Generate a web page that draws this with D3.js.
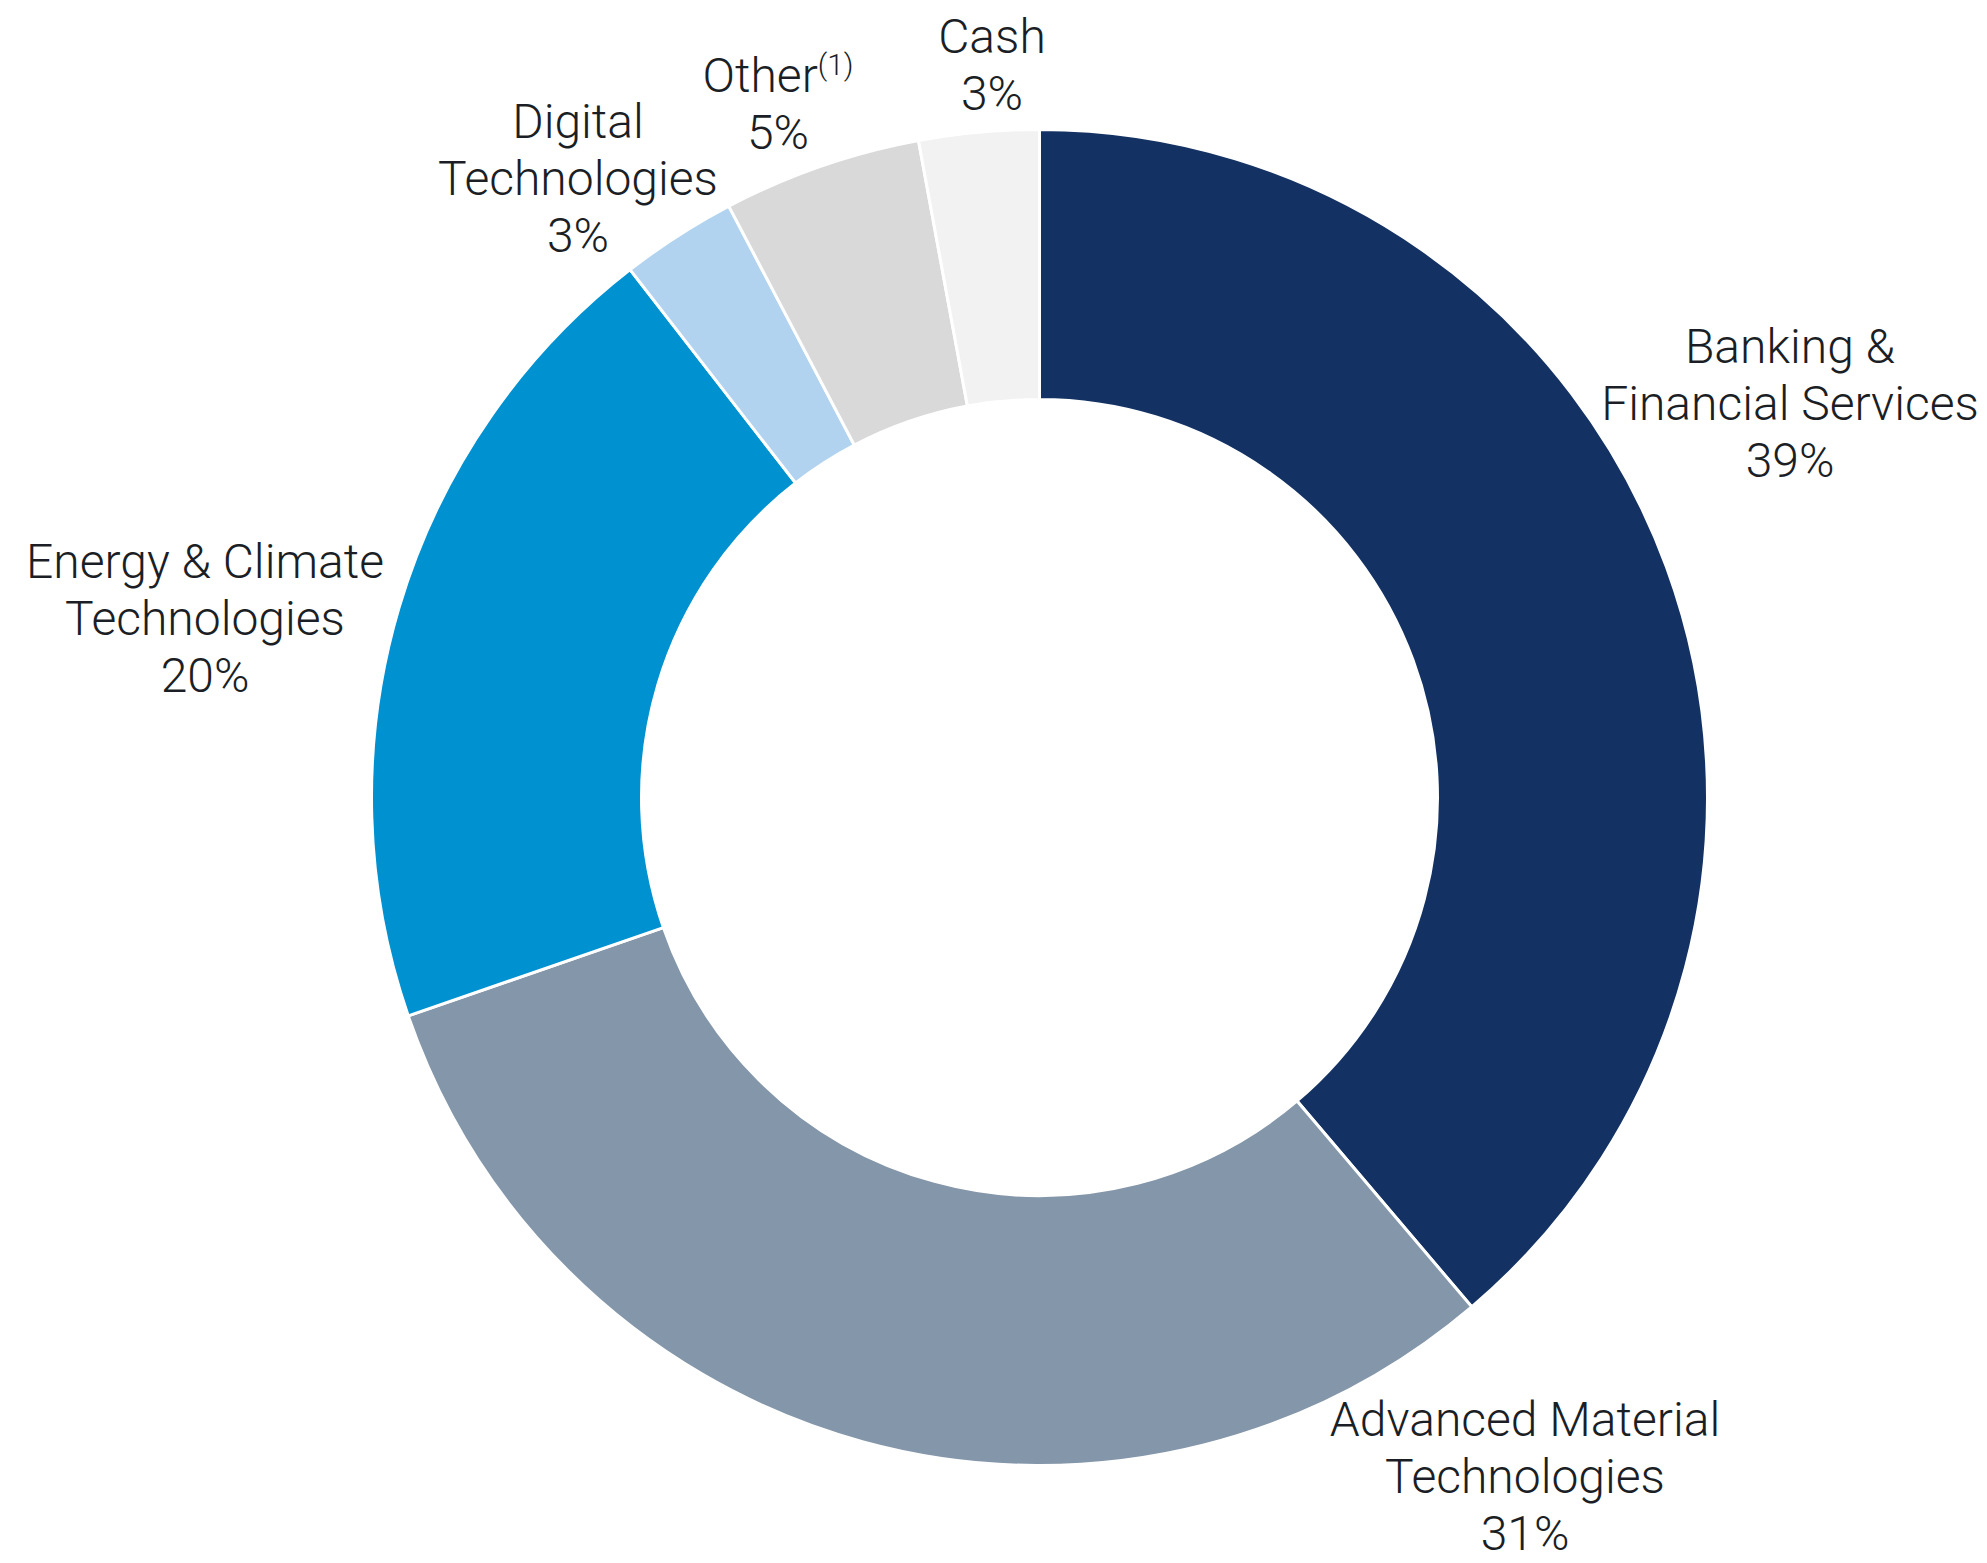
<!DOCTYPE html>
<html>
<head>
<meta charset="utf-8">
<script src="https://cdn.jsdelivr.net/npm/d3@7"></script>
<style>
  html, body { margin: 0; padding: 0; background: #ffffff; }
  svg { display: block; }
  text { font-family: Roboto, "Noto Sans", sans-serif; font-weight: 300; fill: #1b1f25; }
</style>
</head>
<body>
<svg></svg>
<script>
//	data
var categories = ["Banking & Financial Services", "Advanced Material Technologies", "Energy & Climate Technologies",
                  "Digital Technologies", "Other", "Cash"];
var shares = [38.8, 30.9, 19.8, 2.8, 4.8, 2.9];
var pctLabels = ["39%", "31%", "20%", "3%", "5%", "3%"];
var labelLines = [["Banking &", "Financial Services"], ["Advanced Material", "Technologies"],
                  ["Energy & Climate", "Technologies"], ["Digital", "Technologies"], ["Other"], ["Cash"]];
var colors = ["#133263", "#8496a9", "#0091d0", "#b1d3ef", "#d9d9d9", "#f2f2f2"];

//	label anchors (text centre x, first baseline y)
var labelPos = [[1790, 363], [1525, 1436], [205, 578], [578, 138], [778, 92], [992, 53]];

var width = 1987, height = 1563;
var cx = 1039.5, cy = 797.5, outerR = 668, innerR = 398;
var fontSize = 48, lineGap = 57;

var svg = d3.select("svg").attr("width", width).attr("height", height);

var data = categories.map(function(c, i) {
    return {name: c, value: shares[i], pct: pctLabels[i], lines: labelLines[i], color: colors[i], pos: labelPos[i]};
});

var pie = d3.pie().sort(null).value(function(d) { return d.value; });
var arc = d3.arc().innerRadius(innerR).outerRadius(outerR);

var g = svg.append("g").attr("transform", "translate(" + cx + "," + cy + ")");

g.selectAll("path")
    .data(pie(data))
    .enter().append("path")
    .attr("d", arc)
    .attr("fill", function(d) { return d.data.color; })
    .attr("stroke", "#ffffff")
    .attr("stroke-width", 3)
    .attr("stroke-linejoin", "miter");

var labels = svg.append("g").selectAll("text")
    .data(data)
    .enter().append("text")
    .attr("text-anchor", "middle")
    .attr("font-size", fontSize);

labels.each(function(d) {
    var t = d3.select(this);
    var rows = d.lines.concat([d.pct]);
    rows.forEach(function(row, i) {
        t.append("tspan")
            .attr("x", d.pos[0])
            .attr("y", d.pos[1] + i * lineGap)
            .text(row);
        if (row === "Other") {
            t.append("tspan")
                .attr("font-size", fontSize * 0.62)
                .attr("dy", -fontSize * 0.36)
                .text("(1)");
        }
    });
});
</script>
</body>
</html>
